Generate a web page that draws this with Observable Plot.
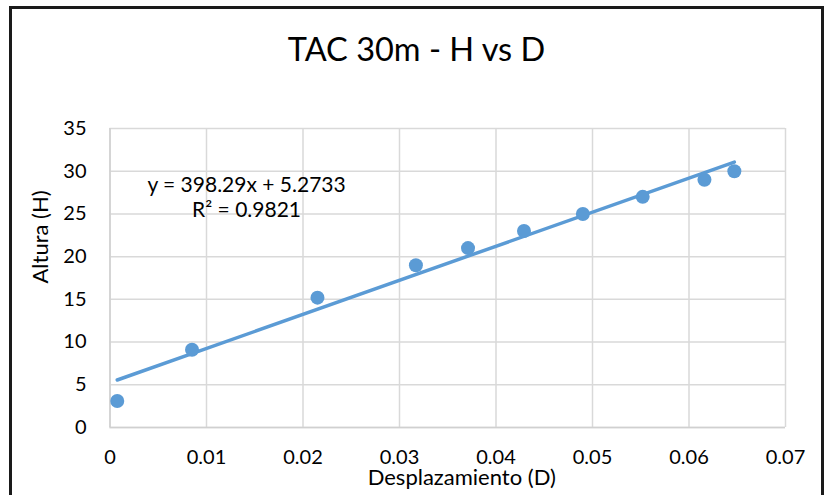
<!DOCTYPE html>
<html>
<head>
<meta charset="utf-8">
<script src="https://cdn.jsdelivr.net/npm/d3@7"></script>
<script src="https://cdn.jsdelivr.net/npm/@observablehq/plot@0.6"></script>
<style>
  html, body { margin: 0; padding: 0; background: #fff; }
  #frame {
    position: absolute; left: 9px; top: 6px;
    width: 809px; height: 520px;
    border: 3px solid #1a1a1a; background: #fff; overflow: hidden;
  }
  #title {
    position: absolute; left: 0; width: 809px; top: 24px;
    text-align: center; font-family: Lato, sans-serif; font-size: 32.5px;
    line-height: 32px; color: #000; white-space: nowrap;
  }
  #chart { position: absolute; left: 0; top: 91px; }
</style>
</head>
<body>
<div id="frame">
  <div id="title">TAC 30m - H vs D</div>
  <div id="chart"></div>
</div>
<script>
// Data
const desplazamiento = [0.00075, 0.0085, 0.0215, 0.0317, 0.0371, 0.0429, 0.0490, 0.0552, 0.0616, 0.0647];
const altura = [3.1, 9.1, 15.2, 19, 21, 23, 25, 27, 29, 30];
const xTicks = [0, 0.01, 0.02, 0.03, 0.04, 0.05, 0.06, 0.07];
const yTicks = [0, 5, 10, 15, 20, 25, 30, 35];
const xLabel = ["Desplazamiento (D)"];
const yLabel = ["Altura (H)"];
const equationLines = ["y = 398.29x + 5.2733", "R² = 0.9821"];

const data = desplazamiento.map((d, i) => ({D: d, H: altura[i]}));
const blue = "#5B9BD5";
const grid = "#d9d9d9";

const plot = Plot.plot({
  width: 808,
  height: 400,
  marginLeft: 97.5,
  marginRight: 35,
  marginTop: 28,
  marginBottom: 73,
  style: {fontFamily: "Lato, sans-serif", fontSize: "20px", color: "#000", background: "#fff"},
  x: {domain: [0, 0.07], ticks: xTicks, tickFormat: d => String(d), label: null},
  y: {domain: [0, 35], ticks: yTicks, tickFormat: d => String(d), label: null},
  marks: [
    Plot.gridX(xTicks, {stroke: grid, strokeOpacity: 1, strokeWidth: 1.5}),
    Plot.gridY(yTicks, {stroke: grid, strokeOpacity: 1, strokeWidth: 1.5}),
    Plot.ruleX([0], {stroke: "#d0d0d0", strokeWidth: 1.5}),
    Plot.ruleY([0], {stroke: "#d0d0d0", strokeWidth: 1.5}),
    Plot.axisX(xTicks, {tickSize: 0, tickPadding: 22, tickFormat: d => String(d), label: null, fill: "#000"}),
    Plot.axisY(yTicks, {tickSize: 0, tickPadding: 23.5, tickFormat: d => String(d), label: null, fill: "#000"}),
    Plot.linearRegressionY(data, {x: "D", y: "H", ci: 0, stroke: blue, strokeWidth: 3.5}),
    Plot.dot(data, {x: "D", y: "H", r: 7, fill: blue, stroke: "none"}),
    Plot.text([equationLines[0]], {x: 0.01415, y: 27.57, text: d => d, lineAnchor: "bottom", textAnchor: "middle", fontSize: 21, fill: "#000"}),
    Plot.text([equationLines[1]], {x: 0.01415, y: 24.62, text: d => d, lineAnchor: "bottom", textAnchor: "middle", fontSize: 21, fill: "#000"}),
    Plot.text(xLabel, {frameAnchor: "bottom", text: d => d, lineAnchor: "bottom", dx: 14, dy: 57, fontSize: 22, fill: "#000"}),
    Plot.text(yLabel, {frameAnchor: "left", text: d => d, rotate: -90, lineAnchor: "middle", dx: -69, dy: 5.5, fontSize: 22, fill: "#000"})
  ]
});
document.getElementById("chart").appendChild(plot);
</script>
</body>
</html>
